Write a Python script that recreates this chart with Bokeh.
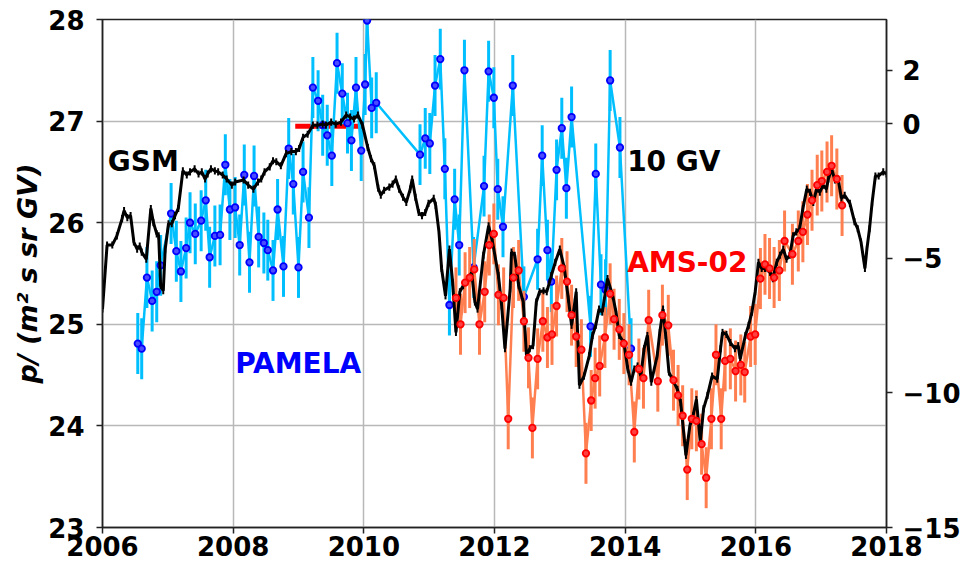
from bokeh.plotting import figure
from bokeh.models import Range1d, LinearAxis, FixedTicker, ColumnDataSource, CustomJSTickFormatter
from bokeh.embed import file_html
from bokeh.resources import INLINE
from bokeh.core.properties import value

# ---------------- data ----------------
GSM_T = [2006.00, 2006.07, 2006.15, 2006.22, 2006.30, 2006.33, 2006.38, 2006.43, 2006.48, 2006.53,
         2006.57, 2006.60, 2006.67, 2006.74, 2006.78, 2006.83, 2006.86, 2006.89, 2006.93, 2006.96,
         2007.01, 2007.06, 2007.11, 2007.16, 2007.23, 2007.29, 2007.34, 2007.41, 2007.47, 2007.52,
         2007.57, 2007.61, 2007.66, 2007.72, 2007.77, 2007.84, 2007.90, 2007.98, 2008.03, 2008.16,
         2008.23, 2008.31, 2008.38, 2008.43, 2008.48, 2008.56, 2008.61, 2008.66, 2008.73, 2008.81,
         2008.89, 2008.96, 2009.01, 2009.07, 2009.14, 2009.22, 2009.29, 2009.37, 2009.42, 2009.50,
         2009.57, 2009.65, 2009.73, 2009.79, 2009.85, 2009.91, 2009.98, 2010.06, 2010.11, 2010.16,
         2010.22, 2010.26, 2010.31, 2010.39, 2010.44, 2010.49, 2010.54, 2010.60, 2010.65, 2010.71,
         2010.74, 2010.79, 2010.84, 2010.89, 2010.94, 2010.99, 2011.07, 2011.10, 2011.15, 2011.19,
         2011.25, 2011.31, 2011.36, 2011.41, 2011.47, 2011.52, 2011.60, 2011.65, 2011.70, 2011.74,
         2011.83, 2011.91, 2011.97, 2012.06, 2012.11, 2012.16, 2012.24, 2012.26, 2012.31, 2012.37,
         2012.44, 2012.49, 2012.54, 2012.59, 2012.64, 2012.69, 2012.75, 2012.80, 2012.87, 2012.93,
         2013.00, 2013.07, 2013.13, 2013.18, 2013.23, 2013.25, 2013.30, 2013.37, 2013.45, 2013.50,
         2013.55, 2013.60, 2013.65, 2013.73, 2013.81, 2013.86, 2013.91, 2013.98, 2014.04, 2014.09,
         2014.14, 2014.19, 2014.24, 2014.29, 2014.34, 2014.40, 2014.49, 2014.53, 2014.58, 2014.62,
         2014.67, 2014.72, 2014.80, 2014.85, 2014.93, 2014.99, 2015.04, 2015.09, 2015.15, 2015.20,
         2015.26, 2015.33, 2015.41, 2015.46, 2015.49, 2015.55, 2015.61, 2015.68, 2015.73, 2015.76,
         2015.84, 2015.89, 2015.94, 2015.99, 2016.04, 2016.09, 2016.14, 2016.22, 2016.26, 2016.32,
         2016.37, 2016.42, 2016.47, 2016.52, 2016.57, 2016.62, 2016.67, 2016.72, 2016.78, 2016.83,
         2016.88, 2016.93, 2016.98, 2017.03, 2017.08, 2017.11, 2017.16, 2017.21, 2017.26, 2017.31,
         2017.36, 2017.44, 2017.51, 2017.56, 2017.61, 2017.64, 2017.67, 2017.70, 2017.74, 2017.78,
         2017.83, 2017.88, 2017.95, 2018.00]
GSM_V = [25.15, 25.78, 25.78, 25.87, 26.04, 26.12, 26.05, 26.07, 25.81, 25.74,
         25.77, 25.71, 25.64, 26.14, 26.00, 25.89, 25.87, 25.38, 25.33, 25.74,
         25.99, 25.99, 26.07, 26.14, 26.51, 26.47, 26.50, 26.53, 26.48, 26.50,
         26.43, 26.48, 26.53, 26.51, 26.50, 26.47, 26.43, 26.37, 26.40, 26.42,
         26.37, 26.33, 26.40, 26.43, 26.50, 26.55, 26.61, 26.60, 26.56, 26.68,
         26.70, 26.70, 26.73, 26.84, 26.87, 26.96, 26.96, 26.97, 26.96, 26.99,
         26.97, 26.99, 27.06, 27.04, 27.02, 27.06, 26.96, 26.74, 26.63, 26.56,
         26.34, 26.27, 26.32, 26.35, 26.38, 26.43, 26.33, 26.25, 26.20, 26.33,
         26.43, 26.25, 26.10, 26.07, 26.10, 26.19, 26.24, 26.17, 25.91, 25.55,
         25.28, 25.74, 25.41, 24.92, 25.32, 25.38, 25.45, 25.51, 25.22, 25.15,
         25.68, 25.97, 25.81, 25.48, 25.18, 24.76, 25.35, 25.71, 25.68, 25.38,
         25.22, 24.69, 24.76, 24.79, 25.22, 25.32, 25.33, 25.32, 25.48, 25.61,
         25.74, 25.55, 25.25, 24.99, 25.22, 25.32, 24.40, 24.49, 24.69, 24.89,
         24.99, 25.15, 25.12, 25.45, 25.28, 25.12, 24.89, 24.82, 24.56, 24.43,
         24.56, 24.59, 24.49, 24.76, 24.89, 24.43, 24.69, 24.92, 25.15, 24.89,
         24.53, 24.46, 24.36, 24.23, 23.71, 24.00, 24.10, 24.26, 23.84, 24.17,
         24.30, 24.49, 24.46, 24.76, 24.92, 24.90, 24.82, 24.76, 24.79, 24.66,
         24.89, 24.99, 25.12, 25.32, 25.61, 25.55, 25.55, 25.51, 25.45, 25.61,
         25.68, 25.74, 25.64, 25.68, 25.87, 25.91, 25.94, 26.14, 26.33, 26.30,
         26.20, 26.33, 26.30, 26.37, 26.33, 26.43, 26.53, 26.42, 26.43, 26.24,
         26.27, 26.19, 26.01, 25.94, 25.81, 25.68, 25.55, 25.74, 25.94, 26.20,
         26.46, 26.46, 26.50, 26.48]
GSM_ERR = 0.035

PAM_T = [2006.54, 2006.60, 2006.68, 2006.76, 2006.83, 2006.89, 2007.05, 2007.13, 2007.20, 2007.28,
         2007.34, 2007.42, 2007.51, 2007.58, 2007.64, 2007.72, 2007.80, 2007.88, 2007.95, 2008.03,
         2008.10, 2008.17, 2008.25, 2008.32, 2008.39, 2008.47, 2008.53, 2008.61, 2008.68, 2008.77,
         2008.85, 2008.92, 2009.00, 2009.07, 2009.16, 2009.22, 2009.30, 2009.37, 2009.44, 2009.51,
         2009.59, 2009.67, 2009.75, 2009.81, 2009.88, 2009.96, 2010.02, 2010.05, 2010.12, 2010.19,
         2010.86, 2010.94, 2011.01, 2011.09, 2011.17, 2011.24, 2011.31, 2011.39, 2011.46, 2011.54,
         2011.68, 2011.84, 2011.91, 2011.99, 2012.05, 2012.13, 2012.28, 2012.45, 2012.66, 2012.73,
         2012.81, 2012.87, 2012.95, 2013.03, 2013.10, 2013.18, 2013.47, 2013.55, 2013.63, 2013.70,
         2013.77, 2013.92, 2014.09]
PAM_V = [24.81, 24.76, 25.46, 25.23, 25.32, 25.58, 26.09, 25.72, 25.52, 25.75,
         26.00, 25.89, 26.02, 26.22, 25.66, 25.87, 25.88, 26.57, 26.13, 26.15,
         25.78, 26.47, 25.61, 26.46, 25.86, 25.80, 25.73, 25.53, 26.13, 25.57,
         26.73, 26.38, 25.56, 26.50, 26.05, 27.33, 27.20, 26.96, 26.86, 26.66,
         27.57, 27.27, 26.98, 26.81, 27.33, 26.71, 27.36, 27.99, 27.13, 27.18,
         26.67, 26.83, 26.78, 27.35, 27.61, 26.53, 25.19, 26.23, 25.78, 27.50,
         25.56, 26.36, 27.49, 27.23, 26.33, 25.96, 27.35, 25.27, 25.64, 26.66,
         25.73, 25.42, 26.52, 26.93, 26.34, 27.04, 24.98, 26.48, 25.39, 25.34,
         27.40, 26.74, 24.76]
PAM_ERR = 0.3

AMS_T = [2011.41, 2011.48, 2011.55, 2011.62, 2011.69, 2011.77, 2011.85, 2011.92, 2011.99, 2012.06,
         2012.14, 2012.21, 2012.29, 2012.37, 2012.45, 2012.52, 2012.58, 2012.66, 2012.74, 2012.81,
         2012.88, 2012.95, 2013.03, 2013.11, 2013.18, 2013.25, 2013.33, 2013.40, 2013.48, 2013.54,
         2013.61, 2013.69, 2013.77, 2013.83, 2013.91, 2013.98, 2014.06, 2014.14, 2014.21, 2014.28,
         2014.36, 2014.50, 2014.57, 2014.66, 2014.74, 2014.81, 2014.88, 2014.95, 2015.02, 2015.09,
         2015.17, 2015.24, 2015.32, 2015.39, 2015.47, 2015.53, 2015.61, 2015.69, 2015.77, 2015.83,
         2015.92, 2015.99, 2016.07, 2016.14, 2016.21, 2016.28, 2016.36, 2016.44, 2016.56, 2016.65,
         2016.72, 2016.79, 2016.86, 2016.94, 2017.01, 2017.09, 2017.16, 2017.24, 2017.32]
AMS_V = [25.26, 25.00, 25.41, 25.46, 25.54, 25.00, 25.32, 25.78, 25.89, 25.29,
         25.26, 24.07, 25.46, 25.53, 25.03, 24.67, 23.98, 24.66, 25.03, 24.87,
         24.90, 25.18, 25.55, 25.42, 25.09, 24.88, 24.75, 23.73, 24.25, 24.47,
         24.59, 24.87, 25.30, 25.05, 24.95, 24.81, 24.70, 23.94, 24.56, 24.47,
         25.04, 24.44, 25.09, 24.99, 24.45, 24.30, 24.10, 23.57, 24.07, 24.05,
         23.82, 23.49, 24.07, 24.70, 24.07, 24.64, 24.66, 24.54, 24.60, 24.53,
         24.88, 24.90, 25.45, 25.59, 25.55, 25.46, 25.53, 25.82, 25.69, 25.82,
         25.91, 26.08, 26.22, 26.37, 26.41, 26.50, 26.56, 26.43, 26.17]
AMS_ERR = 0.3

REF_T = [2008.95, 2010.0]
REF_V = [26.95, 26.95]

X_TICKS = [2006, 2008, 2010, 2012, 2014, 2016, 2018]
Y_TICKS = [23, 24, 25, 26, 27, 28]
R_TICKS = [-15, -10, -5, 0, 2]

FONT = "DejaVu Sans"

# ---------------- figure ----------------
p = figure(width=963, height=565, x_range=Range1d(2006, 2018), y_range=Range1d(23, 28),
           output_backend="svg", toolbar_location=None,
           min_border_left=102, min_border_right=74, min_border_top=19, min_border_bottom=38)
p.extra_y_ranges = {"right": Range1d(-15, 3.88)}
p.background_fill_color = "white"
p.border_fill_color = "white"
p.outline_line_color = "#222222"
p.outline_line_width = 1.5

# grid
p.xgrid.ticker = FixedTicker(ticks=X_TICKS)
p.ygrid.ticker = FixedTicker(ticks=Y_TICKS)
for g in (p.xgrid[0], p.ygrid[0]):
    g.grid_line_color = "#b8b8b8"
    g.grid_line_width = 1.5

# axes
xa = p.xaxis[0]
xa.ticker = FixedTicker(ticks=X_TICKS)
ya = p.yaxis[0]
ya.ticker = FixedTicker(ticks=Y_TICKS)
ya.axis_label = "p/ (m² s sr GV)"
ya.axis_label_text_font = FONT
ya.axis_label_text_font_style = "bold italic"
ya.axis_label_text_font_size = "27px"
ya.axis_label_text_color = "black"
ya.axis_label_standoff = 2

ra = LinearAxis(y_range_name="right", ticker=FixedTicker(ticks=R_TICKS),
                formatter=CustomJSTickFormatter(code="return tick < 0 ? '\\u2212' + Math.abs(tick) : String(tick);"))
p.add_layout(ra, "right")

for ax in (xa, ya, ra):
    ax.axis_line_color = "#222222"
    ax.axis_line_width = 1.5
    ax.major_tick_line_color = "#222222"
    ax.major_tick_line_width = 1.5
    ax.major_tick_out = 6
    ax.major_tick_in = 0
    ax.minor_tick_line_color = None
    ax.major_label_text_font = FONT
    ax.major_label_text_font_style = "bold"
    ax.major_label_text_font_size = "26px"
    ax.major_label_text_color = "black"
xa.major_label_standoff = 2
ya.major_label_standoff = 12
ra.major_label_standoff = 10

# ---------------- glyphs ----------------
gsm = ColumnDataSource(dict(t=GSM_T, v=GSM_V,
                            lo=[v - GSM_ERR for v in GSM_V], hi=[v + GSM_ERR for v in GSM_V]))
pam = ColumnDataSource(dict(t=PAM_T, v=PAM_V,
                            lo=[v - PAM_ERR for v in PAM_V], hi=[v + PAM_ERR for v in PAM_V]))
ams = ColumnDataSource(dict(t=AMS_T, v=AMS_V,
                            lo=[v - AMS_ERR for v in AMS_V], hi=[v + AMS_ERR for v in AMS_V]))

# reference level
p.line(REF_T, REF_V, line_color="red", line_width=5)

# PAMELA
p.segment(x0="t", y0="lo", x1="t", y1="hi", source=pam, line_color="#00BFFF", line_width=3)
p.line("t", "v", source=pam, line_color="#00BFFF", line_width=2.5)
p.scatter("t", "v", source=pam, size=6.5, fill_color="#4a4aff", line_color="blue", line_width=1.8)

# AMS-02
p.segment(x0="t", y0="lo", x1="t", y1="hi", source=ams, line_color="#FF7F50", line_width=3)
p.line("t", "v", source=ams, line_color="#FF7F50", line_width=2.5)

# GSM
p.segment(x0="t", y0="lo", x1="t", y1="hi", source=gsm, line_color="black", line_width=2)
p.line("t", "v", source=gsm, line_color="black", line_width=3)

p.scatter("t", "v", source=ams, size=6.5, fill_color="#ff4040", line_color="red", line_width=1.8)

# text labels
LABELS = [("GSM", 2006.08, 26.60, "black"),
          ("PAMELA", 2008.03, 24.61, "blue"),
          ("10 GV", 2014.03, 26.60, "black"),
          ("AMS-02", 2014.03, 25.61, "red")]
for txt, x, y, c in LABELS:
    p.text(x=[x], y=[y], text=[txt], text_color=c, text_font=value(FONT),
           text_font_style="bold", text_font_size="28px",
           text_align="left", text_baseline="middle")

open("out.html", "w").write(file_html(p, INLINE))
